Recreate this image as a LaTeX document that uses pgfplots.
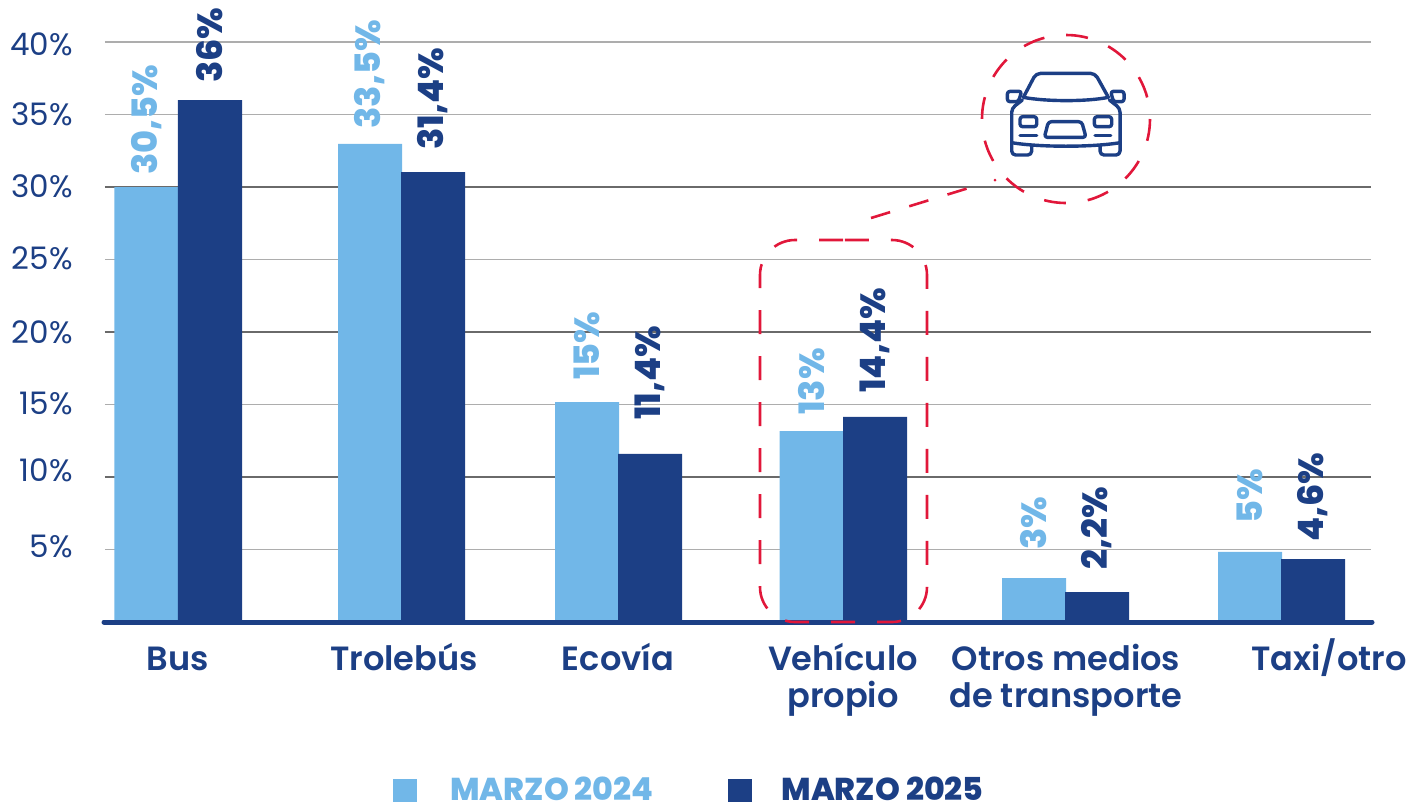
\documentclass[border=0pt]{standalone}
\usepackage{fontspec}
\usepackage{pgfplots}
\pgfplotsset{compat=1.18}
\setmainfont{Poppins}
\newfontfamily\popmed{Poppins SemiBold}
\newfontfamily\popbold{Poppins ExtraBold}
\definecolor{lightb}{HTML}{71B7E8}
\definecolor{navyb}{HTML}{1C3F85}
\definecolor{redd}{HTML}{E1173A}
\definecolor{gridg}{HTML}{ADADAD}
\definecolor{gridd}{HTML}{6A6A6A}

% x is in reference pixels, gap = space between bar top and label
\pgfplotstableread{
x y gap label
146.5 30 6 30,5
370 32.97 7.5 33,5
587 15.17 11 15
811.5 13.17 8 13
1034 3.03 14 3
1250 4.83 14 5
}\marzoA
\pgfplotstableread{
x y gap label
210 36 8.5 36
433 31.03 11 31,4
650 11.59 17 11,4
875 14.14 12 14,4
1097 2.07 11 2,2
1313 4.34 8.5 4,6
}\marzoB

\begin{document}
\begin{tikzpicture}
\path[use as bounding box] (0,0) rectangle (710.5pt,-402.5pt);
\begin{axis}[
  at={(52.5pt,-311pt)},anchor=south west,
  scale only axis,width=633pt,height=290pt,
  xmin=105,xmax=1371,ymin=0,ymax=40,
  axis x line=bottom,axis y line=left,
  axis line style={draw=none},
  major tick length=0pt,
  clip=false,
  ybar,bar shift=0pt,bar width=32pt,
  ytick={5,10,...,40},
  yticklabels={\raisebox{3pt}{5\%},\raisebox{4.5pt}{10\%},\raisebox{2pt}{15\%},\raisebox{1pt}{20\%},\raisebox{2pt}{25\%},\raisebox{1.5pt}{30\%},\raisebox{1.5pt}{35\%},40\%},
  yticklabel style={font=\fontsize{15.5}{18}\selectfont,text=navyb,anchor=base east,xshift=-16pt,yshift=-6.9pt,inner sep=0pt},
  ymajorgrids=true,grid style={gridg,line width=0.9pt},
  extra y ticks={10,20,30},extra y tick labels={},
  extra y tick style={major grid style={gridd,line width=0.55pt}},
  xtick={178,404,618,843,1066,1329},
  xticklabels={Bus,Trolebús,Ecovía,{\rule{0pt}{18pt}Vehículo\\propio},{\rule{0pt}{18pt}Otros medios\\de transporte},Taxi/otro},
  xticklabel style={font=\popmed\fontsize{16.8}{18.5}\selectfont,text=navyb,align=center,yshift=-2.5pt,
    execute at begin node={\rule{0pt}{18pt}}},
  legend columns=2,
  legend style={draw=none,fill=none,at={(144pt,-84pt)},anchor=west,inner sep=0pt,
    font=\popbold\fontsize{15.8}{16}\selectfont,
    /tikz/every even column/.append style={column sep=35pt}},
  legend image code/.code={\fill[#1] (0,-5.75pt) rectangle (12pt,5.75pt);},
  nodes near coords={\pgfplotspointmeta\%},
  visualization depends on={\thisrow{gap} \as \lblgap},
  nodes near coords style={font=\popbold\fontsize{17.5}{20}\selectfont,rotate=90,anchor=west,inner sep=0pt,xshift=\lblgap pt},
]
\addplot[fill=lightb,draw=none,text=lightb,point meta=explicit symbolic] table[x=x,y=y,meta=label] {\marzoA};
\addlegendentry{\hspace*{14.5pt}\textcolor{lightb}{MARZO 2024}}
\addplot[fill=navyb,draw=none,text=navyb,point meta=explicit symbolic] table[x=x,y=y,meta=label] {\marzoB};
\addlegendentry{\hspace*{13pt}\textcolor{navyb}{MARZO 2025}}
\end{axis}
\begin{scope}[x=0.5pt,y=-0.5pt]
% baseline and highlight marks
\draw[navyb,line width=2.5pt,line cap=round] (104,622)--(1372,622);
\draw[redd,line width=1.3pt,dash pattern=on 12pt off 11pt] (843,240) -- (795,240) arc[start angle=90,end angle=180,x radius=35,y radius=-35] -- (760,587) arc[start angle=180,end angle=270,x radius=35,y radius=-35] -- (892,622) arc[start angle=270,end angle=360,x radius=35,y radius=-35] -- (927,275) arc[start angle=0,end angle=90,x radius=35,y radius=-35] -- cycle;
\draw[redd,line width=1.3pt,dash pattern=on 11pt off 11pt] (1066,119) circle[radius=84];
\draw[redd,line width=1.3pt,dash pattern=on 10pt off 10pt] (871,218) -- (985,183);
\fill[redd] (995,180) circle[radius=1.5];
% car icon, units are zoomed pixels
\begin{scope}[shift={(860,20)},x=0.1667pt,y=-0.1667pt,navyb,line width=1.7pt,line cap=round,line join=round]
\draw[rounded corners=2.3pt] (490,232) -- (528,160) -- (705,160) -- (745,232);
\draw (490,232) .. controls (560,245) and (680,245) .. (745,232);
\draw[rounded corners=2pt] (487,240) -- (455,265) -- (455,405) -- (515,405) -- (515,378);
\draw[rounded corners=2pt] (748,240) -- (780,265) -- (780,405) -- (720,405) -- (720,378);
\draw (455,368) .. controls (540,382) and (695,382) .. (780,368);
\draw[rounded corners=1.3pt] (485,214) -- (442,214) -- (442,245) -- (475,245) -- cycle;
\draw[rounded corners=1.3pt] (752,214) -- (792,214) -- (792,245) -- (760,245) -- cycle;
\draw[rounded corners=1.3pt] (480,290) rectangle (530,320);
\draw[rounded corners=1.3pt] (703,290) rectangle (755,320);
\draw (480,346) -- (530,346);
\draw (705,346) -- (752,346);
\draw[rounded corners=1.5pt] (565,305) -- (665,305) -- (678,352) -- (553,352) -- cycle;
\end{scope}
\end{scope}
\end{tikzpicture}
\end{document}
